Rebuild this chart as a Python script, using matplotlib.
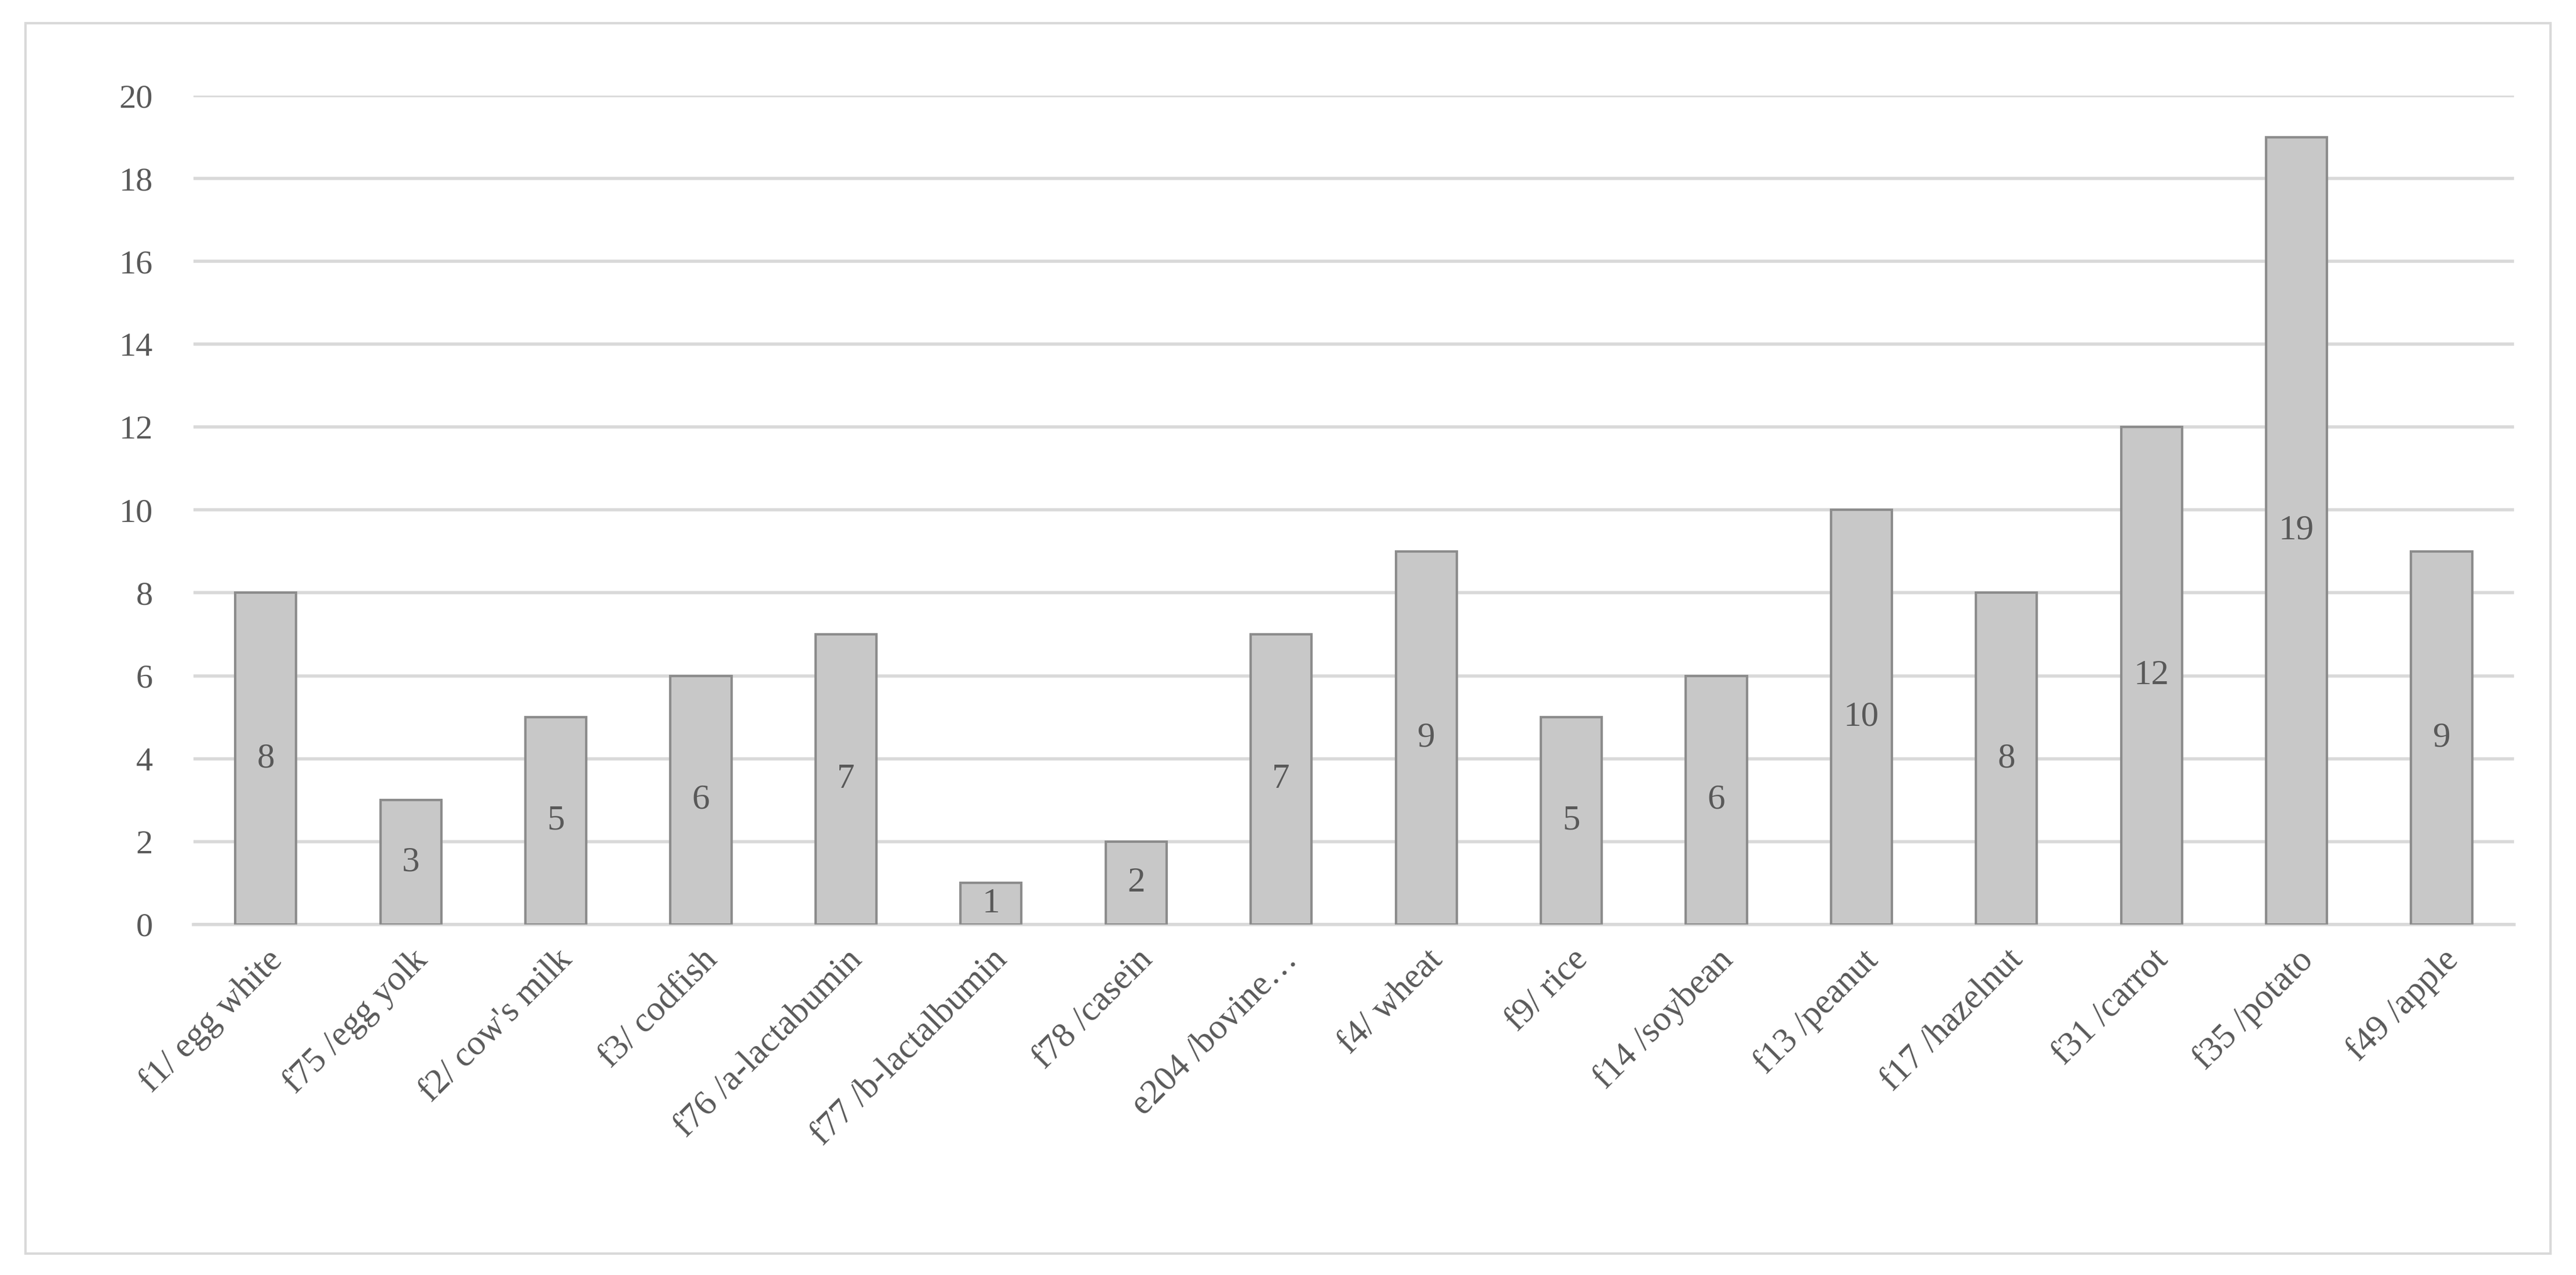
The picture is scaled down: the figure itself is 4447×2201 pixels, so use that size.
import matplotlib
matplotlib.use("Agg")
import matplotlib.pyplot as plt
from matplotlib.patches import Rectangle

categories = ["f1/ egg white", "f75 /egg yolk", "f2/ cow's milk", "f3/ codfish",
              "f76 /a-lactabumin", "f77 /b-lactalbumin", "f78 /casein", "e204 /bovine…",
              "f4/ wheat", "f9/ rice", "f14 /soybean", "f13 /peanut", "f17 /hazelnut",
              "f31 /carrot", "f35 /potato", "f49 /apple"]
values = [8, 3, 5, 6, 7, 1, 2, 7, 9, 5, 6, 10, 8, 12, 19, 9]
yticks = list(range(0, 21, 2))

plt.rcParams['font.family'] = ['Liberation Serif', 'DejaVu Serif']
fig = plt.figure(figsize=(22.235, 11.005), dpi=200)
fig.patches.append(Rectangle((0.01, 0.017), 0.98, 0.965, transform=fig.transFigure,
                             fill=False, edgecolor='#d9d9d9', linewidth=1.5))
ax = fig.add_axes([0.075, 0.275, 0.901, 0.65])
x = list(range(len(values)))
bars = ax.bar(x, values, width=0.42, color='#c8c8c8', edgecolor='#8c8c8c', linewidth=1.5, zorder=3)
for xi, v in zip(x, values):
    ax.text(xi, v / 2, str(v), ha='center', va='center', fontsize=22, color='#595959', zorder=4)
ax.set_ylim(0, 20)
ax.set_xlim(-0.5, len(values) - 0.5)
ax.set_yticks(yticks)
ax.tick_params(axis='y', labelsize=21, labelcolor='#595959', length=0, pad=25)
ax.set_xticks(x)
ax.set_xticklabels(categories, rotation=45, ha='right', rotation_mode='anchor',
                   fontsize=22, color='#595959')
ax.tick_params(axis='x', length=0, pad=12)
ax.grid(axis='y', color='#d9d9d9', linewidth=2, zorder=0)
for s in ['top', 'right', 'left']:
    ax.spines[s].set_visible(False)
ax.spines['bottom'].set_color('#d9d9d9')
ax.spines['bottom'].set_linewidth(2)
fig.savefig("out.png", dpi=200)
